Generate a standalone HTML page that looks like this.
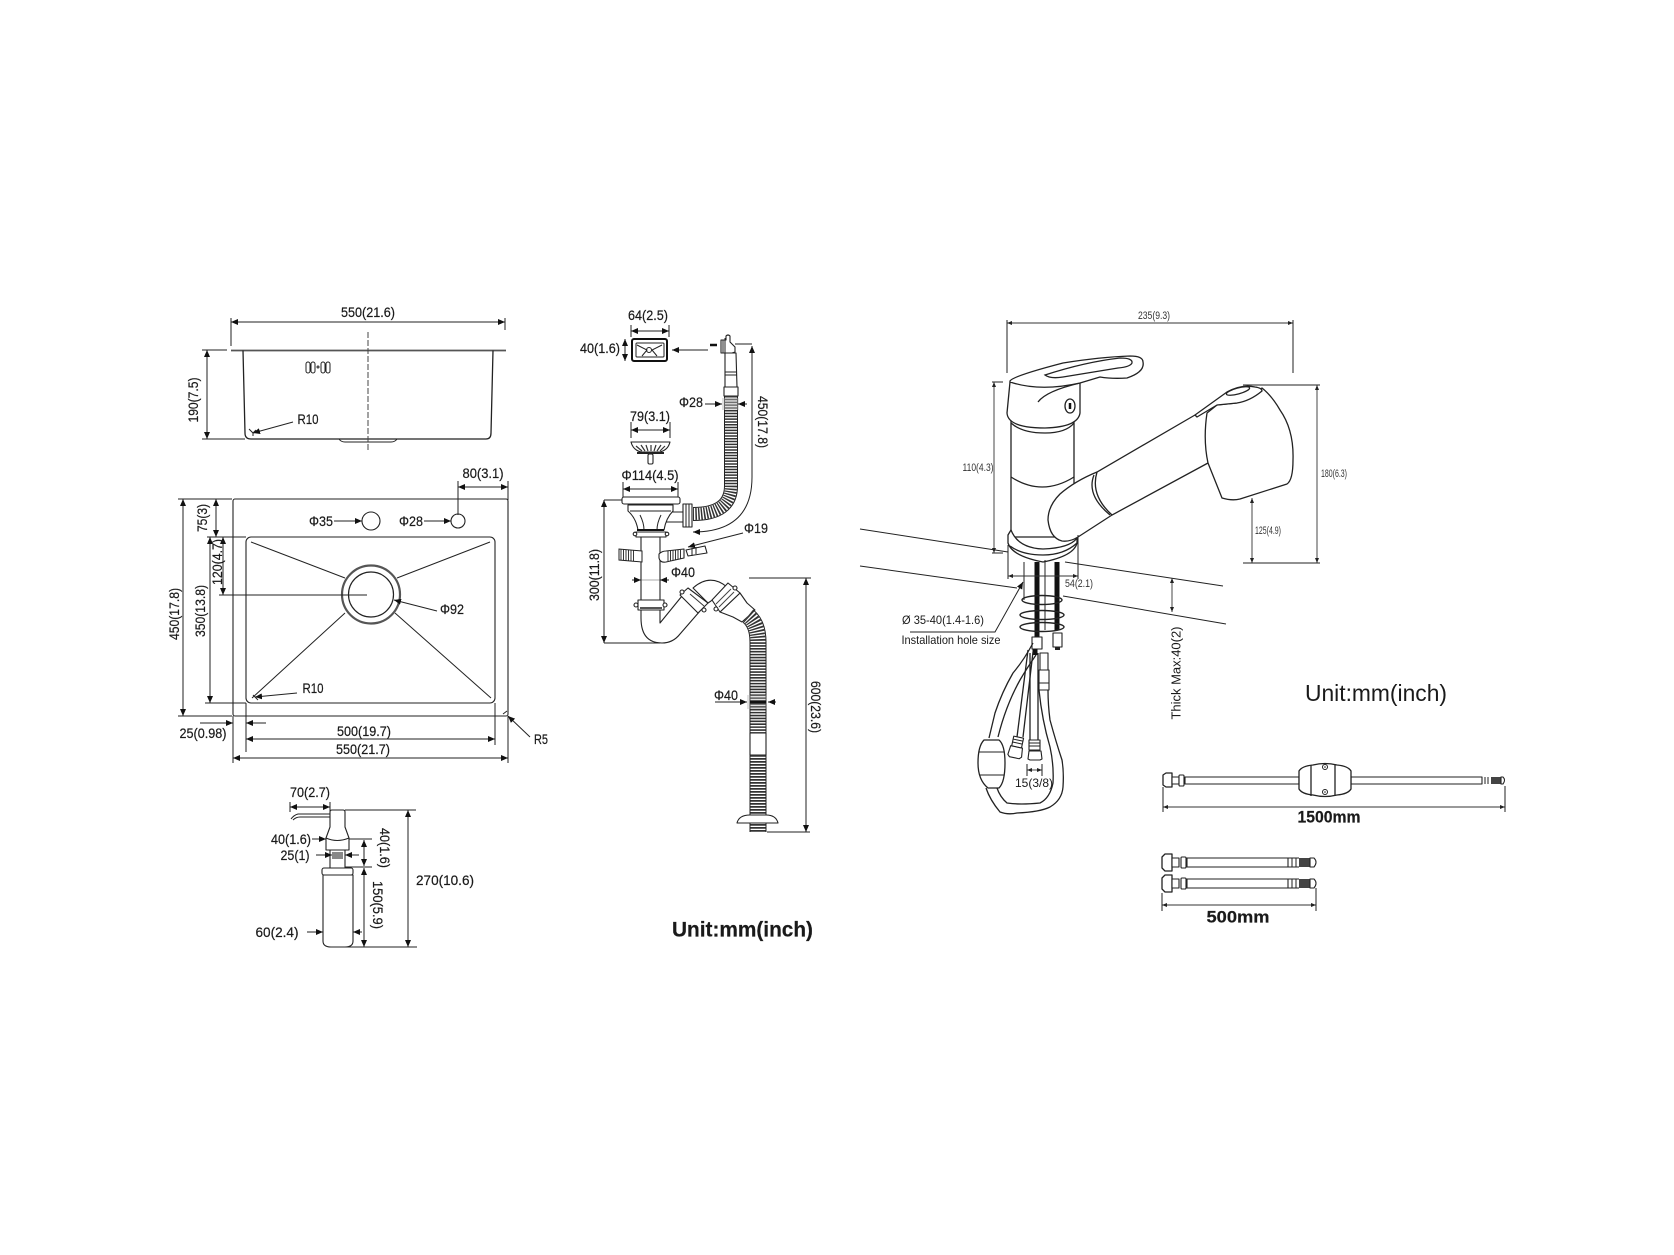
<!DOCTYPE html>
<html><head><meta charset="utf-8"><title>Sink dimensions</title>
<style>
html,body{margin:0;padding:0;background:#fff}
svg{display:block;filter:blur(.35px)}
text{font-family:"Liberation Sans",sans-serif;fill:#1a1a1a;text-anchor:middle;dominant-baseline:central;stroke:#1a1a1a;stroke-width:.2;font-size:14px}
.s{font-size:11px;fill:#333;stroke:none}
.l{fill:none;stroke:#222;stroke-width:1}
.m{fill:#fff;stroke:#222;stroke-width:1.1;stroke-linejoin:round}
.f{fill:#fff;stroke:#222;stroke-width:1.3;stroke-linejoin:round}
.n{fill:none;stroke:#222;stroke-width:1.3}
.d{fill:none;stroke:#222;stroke-width:1;marker-start:url(#a);marker-end:url(#a)}
.e{fill:none;stroke:#222;stroke-width:1;marker-end:url(#a)}
.t{fill:none;stroke:#333;stroke-width:.9;marker-start:url(#b);marker-end:url(#b)}
</style></head><body>
<svg xmlns="http://www.w3.org/2000/svg" width="1674" height="1255" viewBox="0 0 1674 1255">
<defs>
<marker id="a" markerUnits="userSpaceOnUse" markerWidth="8" markerHeight="6" refX="7" refY="3" orient="auto-start-reverse"><path d="M0 0L7 3L0 6Z" fill="#111"/></marker>
<marker id="b" markerUnits="userSpaceOnUse" markerWidth="6" markerHeight="4" refX="5" refY="2" orient="auto-start-reverse"><path d="M0 0L5 2L0 4Z" fill="#222"/></marker>
</defs>
<rect width="1674" height="1255" fill="#fff"/>

<!-- side view sink -->
<path class="l" d="M231 318V346M505 318V330"/>
<path class="d" d="M231 322H505"/>
<text x="368" y="312" textLength="54" lengthAdjust="spacingAndGlyphs">550(21.6)</text>
<path d="M231 350.5H506" fill="none" stroke="#555" stroke-width="1.8"/>
<path class="l" d="M202 350H227"/>
<path class="n" d="M243 350.5L245 433Q245 439 251 439H486Q491 439 491 433L493 350.5"/>
<path class="l" d="M339 439Q341 442 345 442H391Q395 442 397 439"/>
<path d="M368 332V450" fill="none" stroke="#444" stroke-width="1" stroke-dasharray="6 2"/>
<g class="l"><rect x="306" y="362" width="4" height="11" rx="2"/><rect x="311" y="362" width="4" height="11" rx="2"/><rect x="321" y="362" width="4" height="11" rx="2"/><rect x="326" y="362" width="4" height="11" rx="2"/><circle cx="318" cy="367" r="1"/></g>
<path class="d" d="M207 350V439"/>
<path class="l" d="M202 439H245"/>
<text x="193" y="400" textLength="45" lengthAdjust="spacingAndGlyphs" transform="rotate(-90 193 400)">190(7.5)</text>
<text x="308" y="419" textLength="21" lengthAdjust="spacingAndGlyphs">R10</text>
<path class="e" d="M293 422L253 433"/>
<path class="l" d="M249 429L253 433L256 430M253 433V436"/>

<!-- top view sink -->
<rect x="233" y="499" width="275" height="217" rx="2" class="m" stroke-width="1.3"/>
<rect x="246" y="537" width="249" height="166" rx="5" class="m"/>
<path class="l" d="M251 542L345 578M490 542L397 578M345 613L252 698M395 613L491 698"/>
<circle cx="371" cy="594.5" r="29" fill="#fff" stroke="#555" stroke-width="2.2"/>
<circle cx="371" cy="594.5" r="22.5" fill="#fff" stroke="#222" stroke-width="1.2"/>
<circle cx="371" cy="521" r="9" class="m"/>
<circle cx="458" cy="521" r="7" class="m"/>
<text x="321" y="521" textLength="24" lengthAdjust="spacingAndGlyphs">Φ35</text>
<path class="e" d="M334 521H362"/>
<text x="411" y="521" textLength="24" lengthAdjust="spacingAndGlyphs">Φ28</text>
<path class="e" d="M424 521H451"/>
<text x="483" y="473" textLength="41" lengthAdjust="spacingAndGlyphs">80(3.1)</text>
<path class="d" d="M458 487H508"/>
<path class="l" d="M458 481V515M508 481V500"/>
<path class="l" d="M178 499H232M207 537H246M219 595H367M205 703H246M178 716H232"/>
<path class="d" d="M216 499V537"/>
<text x="202" y="518" textLength="28" lengthAdjust="spacingAndGlyphs" transform="rotate(-90 202 518)">75(3)</text>
<path class="d" d="M223 537V595"/>
<text x="217" y="562" textLength="46" lengthAdjust="spacingAndGlyphs" transform="rotate(-90 217 562)">120(4.7)</text>
<path class="d" d="M210 537V703"/>
<text x="200" y="611" textLength="52" lengthAdjust="spacingAndGlyphs" transform="rotate(-90 200 611)">350(13.8)</text>
<path class="d" d="M183 499V716"/>
<text x="174" y="614" textLength="52" lengthAdjust="spacingAndGlyphs" transform="rotate(-90 174 614)">450(17.8)</text>
<text x="452" y="609" textLength="24" lengthAdjust="spacingAndGlyphs">Φ92</text>
<path class="e" d="M437 611L394 600"/>
<text x="313" y="688" textLength="21" lengthAdjust="spacingAndGlyphs">R10</text>
<path class="e" d="M297 693L255 697"/>
<path class="l" d="M253 695L258 700M503 714L507 711"/>
<text x="203" y="733" textLength="47" lengthAdjust="spacingAndGlyphs">25(0.98)</text>
<path class="e" d="M200 723H233"/><path class="e" d="M266 723H246"/>
<path class="l" d="M246 703V752M233 716V763M508 716V763M495 703V745"/>
<text x="364" y="731" textLength="54" lengthAdjust="spacingAndGlyphs">500(19.7)</text>
<path class="d" d="M246 739H495"/>
<text x="363" y="749" textLength="54" lengthAdjust="spacingAndGlyphs">550(21.7)</text>
<path class="d" d="M233 758H508"/>
<text x="541" y="739" textLength="14" lengthAdjust="spacingAndGlyphs">R5</text>
<path class="e" d="M530 737L508 716"/>

<!-- soap dispenser -->
<text x="310" y="792" textLength="40" lengthAdjust="spacingAndGlyphs">70(2.7)</text>
<path class="d" d="M290 807H330" stroke-width=".8"/>
<path class="l" d="M290 802V812M330 802V812"/>
<path class="l" d="M291 819Q294 815 298 814H330M293 820Q296 817 300 817H330"/>
<path class="m" d="M330 812Q330 810 332 810H343Q345 810 345 812V827L349 838V850H326V838L330 827Z"/>
<path class="m" d="M326 838Q337 843 349 838"/>
<rect x="330" y="850" width="15" height="18" class="m"/>
<rect x="332" y="852" width="11" height="7" fill="#888"/>
<rect x="322" y="868" width="31" height="7" rx="2" class="m"/>
<path class="m" d="M323 875H353V941Q353 947 345 947H331Q323 947 323 941Z"/>
<text x="291" y="839" textLength="40" lengthAdjust="spacingAndGlyphs">40(1.6)</text>
<path class="e" d="M312 839H326"/>
<path class="l" d="M349 839H372M345 867H372"/>
<text x="295" y="855" textLength="29" lengthAdjust="spacingAndGlyphs">25(1)</text>
<path class="e" d="M316 855H332"/><path class="e" d="M359 855H345"/>
<path class="d" d="M364 840V866"/>
<text x="385" y="848" textLength="40" lengthAdjust="spacingAndGlyphs" transform="rotate(90 385 848)">40(1.6)</text>
<path class="d" d="M364 868V947"/>
<text x="378" y="905" textLength="48" lengthAdjust="spacingAndGlyphs" transform="rotate(90 378 905)">150(5.9)</text>
<text x="445" y="880" textLength="58" lengthAdjust="spacingAndGlyphs">270(10.6)</text>
<path class="d" d="M408 810V947"/>
<path class="l" d="M345 810H416M330 947H417"/>
<text x="277" y="932" textLength="43" lengthAdjust="spacingAndGlyphs">60(2.4)</text>
<path class="e" d="M307 932H323"/><path class="e" d="M362 932H353"/>

<!-- drain labels & small parts -->
<text x="648" y="315" textLength="40" lengthAdjust="spacingAndGlyphs">64(2.5)</text>
<path class="d" d="M631 331H669"/><path class="l" d="M631 325V337M669 325V337"/>
<text x="600" y="348" textLength="40" lengthAdjust="spacingAndGlyphs">40(1.6)</text>
<path class="d" d="M625 339V361"/>
<rect x="632" y="339" width="35" height="22" rx="2" fill="#fff" stroke="#111" stroke-width="2"/>
<rect x="636" y="343" width="28" height="14" rx="1" class="l"/>
<circle cx="649" cy="350" r="2.5" class="l"/>
<path class="l" d="M637 345L647 350L642 356M662 345L652 350L657 356"/>
<path class="e" d="M708 350H672"/>
<path d="M710 345H717" stroke="#111" stroke-width="2.5"/>
<path class="m" d="M721 340H726V336Q728 334 730 336V342L735 347V352L732 353H721Z"/>
<path class="l" d="M723 340V353M725 338V353"/>

<!-- upper tube & hose -->
<path class="m" d="M725 353H736L737 387H725Z"/>
<path class="l" d="M725 372H737M725 375H737"/>
<rect x="724" y="387" width="14" height="9" class="m"/>
<path d="M731 396V486Q731 514 693 514" fill="none" stroke="#222" stroke-width="14"/>
<path d="M731 396V486Q731 514 693 514" fill="none" stroke="#fff" stroke-width="12"/>
<path d="M731 396V486Q731 514 693 514" fill="none" stroke="#333" stroke-width="12" stroke-dasharray="1.5 1.3"/>
<rect x="722" y="398" width="17" height="12" fill="#bbb" opacity=".45"/>
<text x="691" y="402" textLength="24" lengthAdjust="spacingAndGlyphs">Φ28</text>
<path class="e" d="M705 404H722"/><path class="e" d="M747 404H738"/>
<path class="l" d="M735 344H752"/>
<path class="d" d="M752 346V477Q752 532 693 532"/>
<text x="763" y="422" textLength="52" lengthAdjust="spacingAndGlyphs" transform="rotate(90 763 422)">450(17.8)</text>

<!-- strainer -->
<text x="650" y="416" textLength="40" lengthAdjust="spacingAndGlyphs">79(3.1)</text>
<path class="d" d="M631 430H670"/><path class="l" d="M631 422V438M670 422V438"/>
<path class="m" d="M631 442H670Q668 450 660 452H641Q633 450 631 442Z"/>
<path d="M636 446L642 451M641 445L645 451M646 445L648 451M651 445L651 451M656 445L654 451M661 445L657 451M665 446L660 451" stroke="#333" stroke-width="1.2"/>
<path d="M637 453H664" stroke="#222" stroke-width="2"/>
<rect x="648" y="454" width="5" height="10" rx="1.5" class="m"/>

<!-- drain body -->
<text x="650" y="475" textLength="57" lengthAdjust="spacingAndGlyphs">Φ114(4.5)</text>
<path class="d" d="M623 489H678"/><path class="l" d="M623 482V497M678 482V497"/>
<path class="l" d="M604 500H622M604 643H660"/>
<path class="d" d="M604 500V643"/>
<text x="594" y="575" textLength="52" lengthAdjust="spacingAndGlyphs" transform="rotate(-90 594 575)">300(11.8)</text>
<path class="m" d="M660 512H684V522H660Z"/>
<rect x="683" y="504" width="9" height="23" class="m"/>
<path class="l" d="M686 504V527M689 504V527"/>
<path class="m" d="M628 505H673V511Q666 518 664 530H638Q636 518 628 511Z"/>
<path class="l" d="M630 511H671M640 515Q644 523 644 530M661 515Q657 523 657 530"/>
<rect x="622" y="497" width="58" height="7" rx="2" class="m" stroke-width="1.4"/>
<path d="M637 530H664" stroke="#111" stroke-width="2"/>

<!-- pipe and trap -->
<path class="m" d="M641 537V618Q641 643 662 643Q673 643 680 634L700 611L682 596L660 623V537Z"/>
<rect x="636" y="532" width="30" height="5" class="m"/>
<circle cx="635" cy="534" r="1.8" class="m"/><circle cx="667" cy="534" r="1.8" class="m"/>
<rect x="638" y="600" width="26" height="10" class="m"/>
<path d="M640 608H662" stroke="#555" stroke-width="2"/>
<circle cx="636" cy="605" r="2" class="m"/><circle cx="665" cy="605" r="2" class="m"/>
<path d="M642 551L619 549V560L642 562Z" fill="#fff" stroke="#222"/>
<path d="M621 549V560M623.5 549V560M626 550V561M628.5 550V561M631 550V561M633.5 550V561" stroke="#222" stroke-width=".9"/>
<path class="m" d="M659 554Q662 551 666 551L684 549V558L666 562Q660 563 659 558Z"/>
<path d="M668 551V561M670.5 551V561M673 550V560M675.5 550V560M678 550V559M680.5 550V559" stroke="#222" stroke-width=".9"/>
<path class="m" d="M686 550L705 546L707 553L688 556Z"/>
<path class="l" d="M692 548V556M696 547V554"/>
<text x="756" y="528" textLength="24" lengthAdjust="spacingAndGlyphs">Φ19</text>
<path class="e" d="M743 533L688 547"/>
<text x="683" y="572" textLength="24" lengthAdjust="spacingAndGlyphs">Φ40</text>
<path class="e" d="M632 580H641"/><path class="e" d="M669 580H660"/><path d="M641 580H660" stroke="#aaa"/>
<path class="l" d="M641 574V586M660 574V586"/>

<!-- elbows -->
<path class="m" d="M693 588Q710 573 727 587L711 601L708 603Z"/>
<path class="m" d="M680 595L688 588L708 603L698 613Z"/>
<path d="M690 594L704 606" stroke="#333" stroke-width="1"/>
<circle cx="682" cy="592" r="2" class="m"/><circle cx="704" cy="610" r="2" class="m"/>
<path class="m" d="M733 617L742 622L755 610L747 603L740 593L720 612Z"/>
<!-- lower hose -->
<path d="M748 616Q758 624 758 642V733" fill="none" stroke="#222" stroke-width="17"/>
<path d="M748 616Q758 624 758 642V733" fill="none" stroke="#fff" stroke-width="15"/>
<path d="M748 616Q758 624 758 642V733" fill="none" stroke="#333" stroke-width="15" stroke-dasharray="1.6 1.3"/>
<path class="m" d="M712 600L728 583L740 593L720 612Z"/>
<path d="M716 604L731 589M719 607L734 592" stroke="#444" stroke-width="1"/>
<circle cx="735" cy="588" r="2" class="m"/><circle cx="716" cy="609" r="2" class="m"/>
<rect x="750" y="733" width="16" height="22" class="m"/>
<path d="M758 755V832" fill="none" stroke="#222" stroke-width="17"/>
<path d="M758 755V832" fill="none" stroke="#fff" stroke-width="15"/>
<path d="M758 755V832" fill="none" stroke="#333" stroke-width="15" stroke-dasharray="1.8 1.2"/>
<path class="m" d="M737 823Q739 815 750 815H766Q776 815 778 823Z"/>
<rect x="747" y="695" width="20" height="14" fill="#aaa" opacity=".35"/>
<path d="M750 702H766" stroke="#111" stroke-width="3"/>
<text x="726" y="695" textLength="24" lengthAdjust="spacingAndGlyphs">Φ40</text>
<path class="e" d="M715 702H747"/><path class="e" d="M776 702H768"/>
<path class="l" d="M749 578H811M767 832H810"/>
<path class="d" d="M806 578V832"/>
<text x="816" y="707" textLength="52" lengthAdjust="spacingAndGlyphs" transform="rotate(90 816 707)">600(23.6)</text>
<text x="742.5" y="930" font-weight="bold" style="font-size:21px" textLength="141" lengthAdjust="spacingAndGlyphs">Unit:mm(inch)</text>

<!-- counter -->
<path class="l" d="M860 529L1008 552M1065 562L1223 586M860 566L1017 588M1063 596L1226 624"/>

<!-- faucet -->
<text class="s" x="1154" y="316" textLength="32" lengthAdjust="spacingAndGlyphs">235(9.3)</text>
<path class="t" d="M1007 323H1293"/>
<path class="l" d="M1007 320V373M1293 320V373"/>
<!-- column -->
<path class="f" d="M1011 420V537H1074V420Z"/>
<path class="n" d="M1011 477Q1042 497 1074 477"/>
<!-- base -->
<path class="f" d="M1008 535V543Q1012 556 1043 562Q1074 556 1077 543V538Q1070 548 1043 549Q1018 548 1011 530Z"/>
<path class="n" d="M1010 546Q1022 555 1043 555Q1064 555 1077 543"/>
<!-- body -->
<path class="f" d="M1010 382L1007 413Q1008 428 1045 428Q1078 427 1080 413V383Z"/>
<path class="n" d="M1011 423Q1022 433 1045 433Q1066 433 1074 423"/>
<path class="n" d="M1038 402Q1046 391 1080 383"/>
<ellipse cx="1070" cy="406" rx="5" ry="7" class="n"/>
<path d="M1070 403V409" stroke="#111" stroke-width="2.5"/>
<!-- handle -->
<path class="f" d="M1010 381Q1013 376 1063 363Q1100 357 1130 356Q1143 356 1143 362Q1145 372 1127 378Q1112 379 1100 377L1080 383Q1040 392 1010 382Z"/>
<path class="n" d="M1045 375Q1085 362 1120 358Q1133 358 1132 363Q1130 367 1118 368L1063 377Q1050 379 1045 375Z"/>
<!-- spout -->
<path d="M1097 472L1195 415L1215 410L1215 460L1112 515L1078 537Q1070 542 1062 541Q1050 538 1048 520Q1048 506 1060 494Q1075 481 1097 472Z" fill="#fff" stroke="none"/>
<path class="n" d="M1195 415L1097 472Q1075 481 1060 494Q1048 506 1048 520Q1050 538 1062 541Q1070 542 1078 537L1112 515L1208 463"/>
<path class="n" d="M1094 475Q1086 495 1110 515M1097 472Q1090 495 1112 515"/>
<!-- head -->
<path class="f" d="M1207 413Q1203 440 1208 463L1222 498Q1232 501 1240 499L1287 484Q1293 480 1293 460Q1294 430 1280 410Q1272 396 1262 388L1237 403L1217 405Z"/>
<path class="f" d="M1195 415L1227 392Q1242 384 1255 387Q1262 388 1262 391Q1250 401 1237 403L1217 405L1197 417Z"/>
<ellipse cx="1238" cy="391" rx="12" ry="3" class="n" transform="rotate(-15 1238 391)"/>
<!-- faucet dims -->
<path class="l" d="M1243 385H1320M1243 563H1320M992 382H1003M992 553H1003"/>
<path class="t" d="M1317 385V563"/><text class="s" x="1334" y="474" textLength="26" lengthAdjust="spacingAndGlyphs">180(6.3)</text>
<path class="t" d="M1252 498V563"/><text class="s" x="1268" y="531" textLength="26" lengthAdjust="spacingAndGlyphs">125(4.9)</text>
<path class="t" d="M994 382V553"/><text class="s" x="978" y="468" textLength="31" lengthAdjust="spacingAndGlyphs">110(4.3)</text>

<!-- under-counter pipes -->
<path class="l" d="M1024 562V600M1045 560V630"/>
<path d="M1037 562V645" stroke="#111" stroke-width="5"/>
<path d="M1057 562V630" stroke="#111" stroke-width="5"/>
<ellipse cx="1042" cy="600" rx="20" ry="4.5" fill="none" stroke="#222" stroke-width="1.4"/>
<ellipse cx="1042" cy="615" rx="22" ry="4.5" fill="none" stroke="#222" stroke-width="1.4"/>
<ellipse cx="1042" cy="627" rx="22" ry="4.5" fill="none" stroke="#222" stroke-width="1.4"/>
<path class="l" d="M1008 545V579M1078 535V579"/>
<path class="t" d="M1008 576H1078"/>
<text class="s" x="1079" y="584" textLength="28" lengthAdjust="spacingAndGlyphs">54(2.1)</text>
<path class="t" d="M1172 578V612"/>
<text x="1176" y="673" textLength="93" lengthAdjust="spacingAndGlyphs" transform="rotate(-90 1176 673)" style="font-size:13px;stroke:none">Thick Max:40(2)</text>
<text x="943" y="620" textLength="82" lengthAdjust="spacingAndGlyphs" style="font-size:12px;stroke:none">Ø 35-40(1.4-1.6)</text>
<text x="951" y="640" textLength="99" lengthAdjust="spacingAndGlyphs" style="font-size:12px;stroke:none">Installation hole size</text>
<path class="e" d="M910 632H995L1023 582"/>

<!-- pull-out hoses -->
<rect x="1032" y="637" width="10" height="12" class="m"/><path d="M1035 649V655" stroke="#111" stroke-width="5"/>
<rect x="1053" y="633" width="9" height="14" class="m"/><path d="M1055 647H1060V650H1055Z" fill="#222"/>
<path class="n" d="M1033 643Q1024 660 1013 673Q1002 692 995 713L989 738"/>
<path class="n" d="M1036 655Q1027 668 1020 680Q1006 705 998 737"/>
<path class="n" d="M1028 650L1017 737M1033 652L1023 737"/>
<g transform="rotate(12 1017 745)">
<rect x="1012" y="737" width="10" height="10" class="m"/><path class="l" d="M1012 740H1022M1012 743H1022"/>
<path class="m" d="M1011 747H1023L1024 756L1022 758H1012L1010 756Z"/>
</g>
<path class="n" d="M1030 653V740M1038 653V740"/>
<rect x="1029" y="740" width="11" height="10" class="m"/><path class="l" d="M1029 743H1040M1029 746H1040"/>
<path class="m" d="M1029 751H1041L1042 759L1040 760H1030L1028 759Z"/>
<path class="m" d="M1040 653H1048V670H1040Z"/>
<rect x="1039" y="670" width="10" height="20" class="m"/>
<path class="l" d="M1039 683H1049"/>
<path class="n" d="M986 788Q990 800 1000 812Q1008 815 1017 813Q1040 812 1050 807Q1062 800 1063 787Q1064 772 1062 760Q1056 742 1050 720Q1048 705 1048 690"/>
<path class="n" d="M997 788Q1000 797 1007 803Q1020 805 1040 803Q1050 798 1053 783Q1054 765 1050 747Q1042 720 1039 690"/>
<path class="f" d="M984 740H999Q1005 745 1005 763Q1005 782 999 788H988Q978 780 978 763Q978 746 984 740Z"/>
<path class="l" d="M979 752H1004M979 775H1004"/>
<text x="1034" y="783" textLength="38" lengthAdjust="spacingAndGlyphs" style="font-size:12px;stroke:none">15(3/8)</text>
<path class="t" d="M1027 770H1042"/>
<path class="l" d="M1027 764V776M1042 764V776"/>

<!-- right unit -->
<text x="1376" y="693" textLength="142" lengthAdjust="spacingAndGlyphs" style="font-size:23px;stroke:none">Unit:mm(inch)</text>

<!-- long hose -->
<path class="f" d="M1163 775L1166 773H1172V787H1166L1163 785Z"/>
<rect x="1172" y="777" width="7" height="7" class="m"/><rect x="1179" y="775" width="5" height="11" rx="1" class="m"/>
<rect x="1185" y="777" width="114" height="7" class="m"/>
<rect x="1351" y="777" width="131" height="7" class="m"/>
<path class="l" d="M1482 777V784M1485 777V784M1488 777V784"/>
<rect x="1491" y="777" width="10" height="7" fill="#444"/>
<path class="m" d="M1501 777H1503Q1506 780 1503 784H1501Z"/>
<path class="f" d="M1299 771Q1302 766 1313 765Q1325 762 1337 765Q1348 766 1351 771V789Q1348 794 1337 795Q1325 798 1313 795Q1302 794 1299 789Z"/>
<path class="n" d="M1311 765V796M1335 764V796"/>
<circle cx="1325" cy="767" r="2.5" class="l"/><circle cx="1325" cy="792" r="2.5" class="l"/>
<circle cx="1325" cy="767" r=".8" fill="#222"/><circle cx="1325" cy="792" r=".8" fill="#222"/>
<path class="t" d="M1163 807H1505"/>
<path class="l" d="M1163 787V812M1505 786V812"/>
<text x="1329" y="817" font-weight="bold" style="font-size:17px" textLength="63" lengthAdjust="spacingAndGlyphs">1500mm</text>

<!-- short hoses -->
<g>
<path class="f" d="M1162 857L1165 854H1172V871H1165L1162 868Z"/>
<rect x="1172" y="858" width="7" height="9" class="m"/><rect x="1181" y="857" width="5" height="11" rx="1" class="m"/>
<rect x="1187" y="858" width="101" height="9" class="m"/>
<path class="l" d="M1288 858H1299M1288 867H1299M1292 858V867M1296 858V867"/>
<rect x="1299" y="858" width="11" height="9" fill="#444"/>
<path class="m" d="M1310 858H1314Q1318 862 1314 867H1310Z"/>
</g>
<g transform="translate(0 21)">
<path class="f" d="M1162 857L1165 854H1172V871H1165L1162 868Z"/>
<rect x="1172" y="858" width="7" height="9" class="m"/><rect x="1181" y="857" width="5" height="11" rx="1" class="m"/>
<rect x="1187" y="858" width="101" height="9" class="m"/>
<path class="l" d="M1288 858H1299M1288 867H1299M1292 858V867M1296 858V867"/>
<rect x="1299" y="858" width="11" height="9" fill="#444"/>
<path class="m" d="M1310 858H1314Q1318 862 1314 867H1310Z"/>
</g>
<path class="t" d="M1162 905H1316"/>
<path class="l" d="M1162 893V911M1316 888V911"/>
<text x="1238" y="917" font-weight="bold" style="font-size:17px" textLength="63" lengthAdjust="spacingAndGlyphs">500mm</text>
</svg>
</body></html>
